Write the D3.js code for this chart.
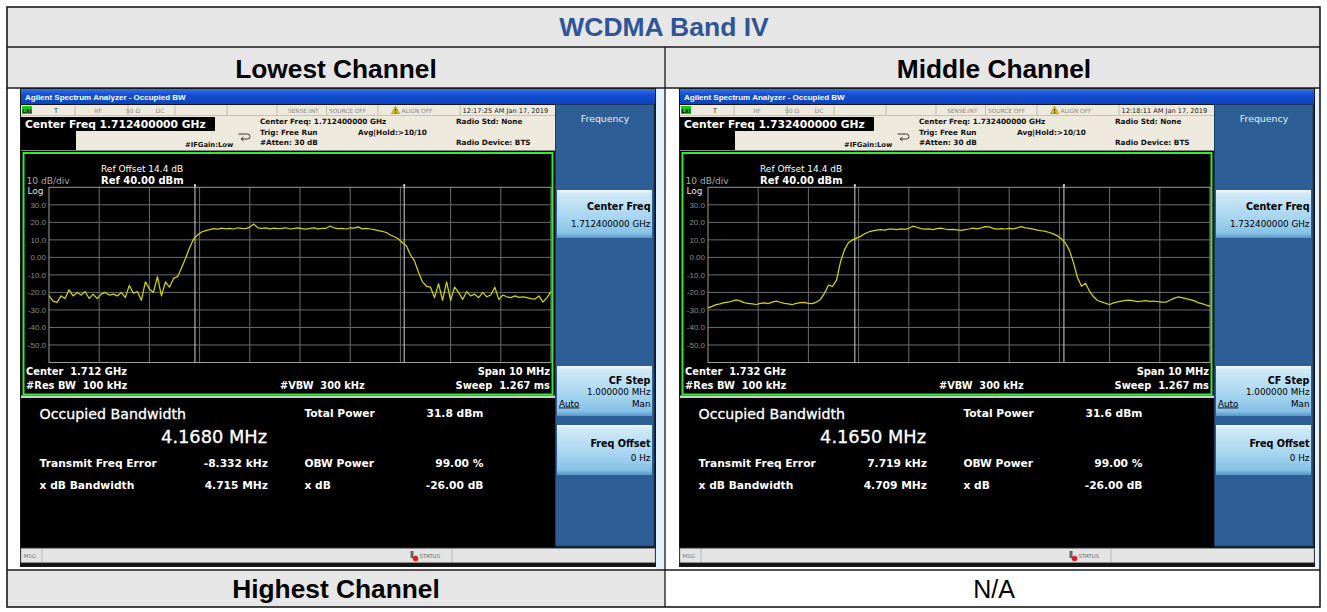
<!DOCTYPE html>
<html><head><meta charset="utf-8">
<script src="https://cdn.jsdelivr.net/npm/d3@7"></script>
<style>
html,body{margin:0;padding:0;background:#fff;}
svg{display:block;}
text{white-space:pre;}
</style></head><body>
<svg id="c" width="1327" height="612"></svg>
<script>
// ---------------- DATA ----------------
const tableTitle = "WCDMA Band IV";
const channelNames = ["Lowest Channel", "Middle Channel", "Highest Channel"];
const highestCell = "N/A";
const refLevelDbm = 40;
const dbPerDiv = 10;
const spanMHz = 10;
const yTickValues = [30, 20, 10, 0, -10, -20, -30, -40, -50];
const yTickLabels = ["30.0", "20.0", "10.0", "0.00", "-10.0", "-20.0", "-30.0", "-40.0", "-50.0"];
const lowestTrace = [
  -21.8, -25, -25.7, -22, -23.5, -18.5, -22, -20, -21.5, -19.5,
  -23.5, -21, -23.5, -21, -20, -21.5, -21, -22, -20, -23,
  -16, -20.5, -19.5, -24.5, -14, -18, -20, -11, -22, -14,
  -17, -12, -11, -6, -0.5, 5.5, 10.5, 12.8, 14.5, 15.3,
  15.8, 16.4, 16.1, 16.7, 16.3, 16.6, 16.2, 16.9, 16.5, 16.4,
  17.3, 19, 16.9, 16.5, 16.8, 16.3, 16.7, 16.4, 16.6, 16.9,
  16.2, 16.5, 16.9, 16.4, 16.1, 16.6, 16.8, 16.3, 16.5, 16.6,
  17.9, 16.8, 16.4, 16.6, 16.2, 16.9, 16.7, 17.4, 16.3, 16.5,
  16.2, 15.8, 15.3, 14.8, 14.2, 12.8, 11.8, 10.5, 8.5, 6.5,
  1.5, -2, -8.5, -14, -16.5, -17, -23, -15, -24.5, -14,
  -24.5, -17, -20, -24, -19.5, -22, -21, -23, -20, -22.5,
  -21.5, -17, -24, -21.5, -22.5, -23, -22, -22.8, -22.5, -23,
  -23.5, -23.8, -22, -25.5, -23, -19.5
];
const middleTrace = [
  -28.8, -28, -27, -26.5, -25.8, -25.6, -25, -24.3, -24.8, -25.8,
  -26.2, -26.5, -26.9, -26.3, -26, -26.4, -25.5, -25, -25.6, -26.2,
  -26.6, -26.9, -26.3, -25.8, -25.7, -26.2, -26.4, -25.5, -24, -20.5,
  -15.8, -16.6, -13, -2.5, 4.4, 8.5, 10, 11, 12, 13.5,
  14.5, 15.1, 15.5, 15.8, 15.6, 16.1, 16.1, 15.8, 16.3, 16,
  16.6, 17.8, 17.2, 16.4, 16.1, 16.3, 15.9, 16.4, 16.7, 16.2,
  15.8, 16, 15.7, 15.4, 15.9, 16.2, 16.7, 16.3, 16.8, 17.6,
  17.4, 16.6, 16.1, 16.4, 16.2, 16.6, 16.3, 16.9, 17.5, 16.8,
  16.5, 16.1, 15.6, 15.2, 14.8, 14.2, 13.4, 12.3, 10.6, 8.2,
  4, -3, -11.5, -16.5, -14.8, -19.3, -22.5, -24.6, -25.4, -26.2,
  -26.9, -26, -25.4, -25, -24.6, -24.4, -24.8, -25.2, -25, -24.7,
  -25.1, -24.9, -25.3, -25.5, -25.6, -24.5, -23.4, -22.6, -23, -23.6,
  -24.1, -24.7, -25.8, -26.4, -27.2, -27.8
];
const traces = [lowestTrace, middleTrace];
const centerFreqLong = ["1.712400000 GHz", "1.732400000 GHz"];
const centerFreqShort = ["1.712 GHz", "1.732 GHz"];
const timestamps = ["12:17:25 AM Jan 17, 2019", "12:18:11 AM Jan 17, 2019"];
const obwMHz = [4.1680, 4.1650];
const obwText = ["4.1680 MHz", "4.1650 MHz"];
const totalPower = ["31.8 dBm", "31.6 dBm"];
const freqErrorKHz = [-8.332, 7.719];
const freqErrorText = ["-8.332 kHz", "7.719 kHz"];
const xdbBandwidth = ["4.715 MHz", "4.709 MHz"];
const obwPower = "99.00 %";
const xdbValue = "-26.00 dB";
const refOffsetText = "Ref Offset 14.4 dB";
const refText = "Ref 40.00 dBm";
const resBw = "100 kHz", vbw = "300 kHz", sweepTime = "1.267 ms";

// ---------------- DRAW ----------------
const SCR = "DejaVu Sans, Verdana, sans-serif";
const UI = "Liberation Sans, Arial, sans-serif";
const svg = d3.select("#c");
const defs = svg.append("defs");

function grad(id, stops, vertical = true) {
  const lg = defs.append("linearGradient").attr("id", id)
    .attr("x1", 0).attr("y1", 0).attr("x2", vertical ? 0 : 1).attr("y2", vertical ? 1 : 0);
  stops.forEach(s => lg.append("stop").attr("offset", s[0]).attr("stop-color", s[1]));
}
grad("gTitle", [[0, "#3a74e4"], [0.35, "#1450d4"], [1, "#0b42c0"]]);
grad("gKey", [[0, "#f2f9fd"], [0.08, "#cfe9f7"], [0.55, "#a9d6f0"], [0.9, "#86c2e7"], [1, "#5b95c4"]]);

function T(g, x, y, s, o = {}) {
  const t = g.append("text").attr("x", x).attr("y", y).text(s)
    .attr("font-family", o.f || SCR)
    .attr("font-size", o.s || 10)
    .attr("font-weight", o.w || "normal")
    .attr("fill", o.c || "#fff")
    .attr("text-anchor", o.a || "start");
  if (o.u) t.attr("text-decoration", "underline");
  if (o.st) t.attr("stroke", o.c || "#fff").attr("stroke-width", o.st);
  return t;
}
function R(g, x, y, w, h, fill, stroke, sw) {
  const r = g.append("rect").attr("x", x).attr("y", y).attr("width", w).attr("height", h)
    .attr("fill", fill || "none");
  if (stroke) r.attr("stroke", stroke).attr("stroke-width", sw || 1);
  return r;
}
function L(g, x1, y1, x2, y2, c, w) {
  return g.append("line").attr("x1", x1).attr("y1", y1).attr("x2", x2).attr("y2", y2)
    .attr("stroke", c).attr("stroke-width", w || 1);
}

// ---- table ----
const gray = "#e7e6e6";
R(svg, 7, 7, 1313, 40, gray);
R(svg, 7, 47, 1313, 41, gray);
R(svg, 7, 570, 658, 37, gray);
R(svg, 656, 88, 9, 482, "#e4f0fa");
R(svg, 1315, 88, 5, 482, "#e4f0fa");

T(svg, 664, 36, tableTitle, { f: UI, s: 26.5, w: "bold", c: "#2f5597", a: "middle" });
T(svg, 336, 77.5, channelNames[0], { f: UI, s: 26.3, w: "bold", c: "#000", a: "middle" });
T(svg, 994, 77.5, channelNames[1], { f: UI, s: 26.3, w: "bold", c: "#000", a: "middle" });
T(svg, 336, 598, channelNames[2], { f: UI, s: 26.3, w: "bold", c: "#000", a: "middle" });
T(svg, 994, 598, highestCell, { f: UI, s: 25, c: "#000", a: "middle" });

// ---- screenshots ----
function drawScreen(k, dx) {
  const g = svg.append("g").attr("transform", `translate(${dx},0)`);
  R(g, 20, 88, 636, 479, "#161616");
  // title bar
  R(g, 21, 89, 634, 15, "url(#gTitle)");
  T(g, 25, 99.5, "Agilent Spectrum Analyzer - Occupied BW", { f: UI, s: 8, w: "bold" });
  // header (status row + settings)
  R(g, 21, 105, 535, 46, "#ede9dc");
  L(g, 21, 115.5, 556, 115.5, "#bcb8ac", 0.8);
  [75, 128, 175, 227, 277, 326.5, 378, 460].forEach(xx => L(g, xx, 105, xx, 115, "#b5b1a5", 0.8));
  R(g, 22, 106, 10, 8, "#1bc41b");
  T(g, 22.6, 112.6, "LXI", { s: 5, w: "bold", c: "#000" });
  T(g, 56, 113, "T", { s: 6.5, c: "#333", a: "middle" });
  T(g, 98, 113, "RF", { s: 6, c: "#8a8a8a", a: "middle" });
  T(g, 133, 113, "50 Ω", { s: 6, c: "#8a8a8a", a: "middle" });
  T(g, 160, 113, "DC", { s: 6, c: "#8a8a8a", a: "middle" });
  T(g, 288, 113, "SENSE:INT", { s: 5.8, c: "#8a8a8a" });
  T(g, 329, 113, "SOURCE OFF", { s: 5.8, c: "#8a8a8a" });
  g.append("path").attr("d", "M391.5,113.5 L395.5,106.3 L399.5,113.5 Z").attr("fill", "#f0d000").attr("stroke", "#6b5a00").attr("stroke-width", 0.5);
  T(g, 395.5, 112.8, "!", { s: 5.5, w: "bold", c: "#000", a: "middle" });
  T(g, 401.5, 113, "ALIGN OFF", { s: 5.8, c: "#8a8a8a" });
  T(g, 462.5, 113, timestamps[k], { s: 6.6, c: "#222" });

  R(g, 21, 117, 194, 14, "#000");
  T(g, 25, 127.5, "Center Freq " + centerFreqLong[k], { s: 10.7, w: "bold" });
  R(g, 21, 131, 55, 19, "#000");
  const hb = { s: 7.3, w: "bold", c: "#111" };
  T(g, 260, 124, "Center Freq: " + centerFreqLong[k], hb);
  T(g, 260, 134.5, "Trig: Free Run", hb);
  T(g, 260, 145, "#Atten: 30 dB", hb);
  T(g, 358, 134.5, "Avg|Hold:>10/10", hb);
  T(g, 456, 124, "Radio Std: None", hb);
  T(g, 456, 145, "Radio Device: BTS", hb);
  T(g, 185, 147.3, "#IFGain:Low", { s: 6.8, w: "bold", c: "#111" });
  g.append("path").attr("d", "M238.5,134 h9 a2.5,2.5 0 0 1 0,5 h-6 M243.5,137 l-2.5,2 l2.5,2")
    .attr("fill", "none").attr("stroke", "#222").attr("stroke-width", 0.9);
  L(g, 21, 150.5, 556, 150.5, "#8a877e", 1);

  // graph window
  R(g, 21, 151, 535, 396, "#000");
  R(g, 21, 395.5, 535, 2.5, "#cfcfcf");
  R(g, 23.5, 153, 529, 241.5, "none", "#32ea32", 2);

  const x = d3.scaleLinear().domain([-spanMHz / 2, spanMHz / 2]).range([49, 551]);
  const y = d3.scaleLinear().domain([refLevelDbm, refLevelDbm - dbPerDiv * 10]).range([187.3, 362.5]);
  const gp = g.append("g");
  d3.range(-4, 5).forEach(f => L(gp, x(f), y(40), x(f), y(-60), "#6c6c6c", 1));
  yTickValues.forEach(v => L(gp, x(-5), y(v), x(5), y(v), "#6c6c6c", 1));
  R(gp, x(-5), y(40), x(5) - x(-5), y(-60) - y(40), "none", "#9c9c9c", 1);
  yTickLabels.forEach((lab, i) => T(gp, 46, y(yTickValues[i]) + 2.8, lab, { f: UI, s: 8, c: "#8e8e8e", a: "end" }));

  // OBW markers
  const off = freqErrorKHz[k] / 1000;
  [off - obwMHz[k] / 2, off + obwMHz[k] / 2].forEach(f => {
    L(gp, x(f), y(40) - 2, x(f), y(-60), "#d4d4d4", 1);
    R(gp, x(f) - 1, y(40) - 3, 2, 2, "#e8e8e8");
  });

  // trace
  const tr = traces[k];
  const fx = d3.scaleLinear().domain([0, tr.length - 1]).range([-spanMHz / 2, spanMHz / 2]);
  const line = d3.line().x((d, i) => x(fx(i))).y(d => y(d));
  gp.append("path").datum(tr).attr("d", line).attr("fill", "none")
    .attr("stroke", "#d4d400").attr("stroke-width", 1.25).attr("stroke-linejoin", "round");

  T(g, 101, 172, refOffsetText, { s: 9 });
  T(g, 101, 184, refText, { s: 10, w: "bold" });
  T(g, 26.5, 184, "10 dB/div", { s: 9.1, c: "#a8a8a8" });
  T(g, 27.5, 194, "Log", { s: 9, c: "#e0e0e0" });

  T(g, 26, 375, "Center  " + centerFreqShort[k], { s: 9.9, w: "bold" });
  T(g, 26, 389, "#Res BW  " + resBw, { s: 9.9, w: "bold" });
  T(g, 280, 389, "#VBW  " + vbw, { s: 9.8, w: "bold" });
  T(g, 550, 374.5, "Span " + spanMHz + " MHz", { s: 9.9, w: "bold", a: "end" });
  T(g, 550, 389, "Sweep  " + sweepTime, { s: 9.9, w: "bold", a: "end" });

  // result panel
  T(g, 39.6, 419, "Occupied Bandwidth", { s: 14.2, st: 0.3 });
  T(g, 267, 443, obwText[k], { s: 17.8, a: "end", st: 0.3 });
  const rb = { s: 10.7, w: "bold" };
  T(g, 304.4, 416.5, "Total Power", rb);
  T(g, 483.5, 416.5, totalPower[k], { ...rb, a: "end" });
  T(g, 39.6, 466.5, "Transmit Freq Error", rb);
  T(g, 268, 466.5, freqErrorText[k], { ...rb, a: "end" });
  T(g, 304.4, 466.5, "OBW Power", rb);
  T(g, 483.5, 466.5, obwPower, { ...rb, a: "end" });
  T(g, 39.6, 488.5, "x dB Bandwidth", rb);
  T(g, 268, 488.5, xdbBandwidth[k], { ...rb, a: "end" });
  T(g, 304.4, 488.5, "x dB", rb);
  T(g, 483.5, 488.5, xdbValue, { ...rb, a: "end" });

  // soft keys
  R(g, 555.5, 104.5, 98.5, 441.5, "#2e5e96", "#1c3c66", 1);
  T(g, 605, 121.5, "Frequency", { s: 9.4, c: "#e8eef8", a: "middle" });
  R(g, 557, 190, 95, 48, "url(#gKey)");
  T(g, 650.5, 209.5, "Center Freq", { s: 9.6, w: "bold", c: "#000", a: "end" });
  T(g, 650.5, 227, centerFreqLong[k], { s: 8.8, c: "#000", a: "end" });
  R(g, 557, 366, 95, 50, "url(#gKey)");
  T(g, 650.5, 383.5, "CF Step", { s: 9.6, w: "bold", c: "#000", a: "end" });
  T(g, 650.5, 395, "1.000000 MHz", { s: 8.8, c: "#000", a: "end" });
  T(g, 559, 406.5, "Auto", { s: 8.8, c: "#000", u: true });
  T(g, 650.5, 406.5, "Man", { s: 8.8, c: "#000", a: "end" });
  R(g, 557, 425, 95, 50, "url(#gKey)");
  T(g, 650.5, 446.5, "Freq Offset", { s: 9.6, w: "bold", c: "#000", a: "end" });
  T(g, 650.5, 461, "0 Hz", { s: 8.8, c: "#000", a: "end" });

  // message bar
  R(g, 21, 548.5, 634, 14, "#e4e4e4", "#9a9a9a", 0.6);
  L(g, 42, 549, 42, 562, "#9a9a9a", 0.6);
  L(g, 452, 549, 452, 562, "#9a9a9a", 0.6);
  T(g, 23.5, 558, "MSG", { s: 5.5, c: "#777" });
  R(g, 410.5, 551, 3, 7, "#666");
  g.append("circle").attr("cx", 415.5).attr("cy", 558.5).attr("r", 2.8).attr("fill", "#e02020");
  T(g, 419.5, 558, "STATUS", { s: 5.5, c: "#666" });
}
drawScreen(0, 0);
drawScreen(1, 659);

// ---- table grid lines ----
const bc = "#1a1a1a";
L(svg, 7, 47, 1320, 47, bc, 1.3);
L(svg, 7, 88, 1320, 88, bc, 1.3);
L(svg, 7, 570, 1320, 570, bc, 1.3);
L(svg, 665, 47, 665, 607, bc, 1.3);
R(svg, 7, 7, 1313, 600, "none", bc, 1.6);
</script>
</body></html>
